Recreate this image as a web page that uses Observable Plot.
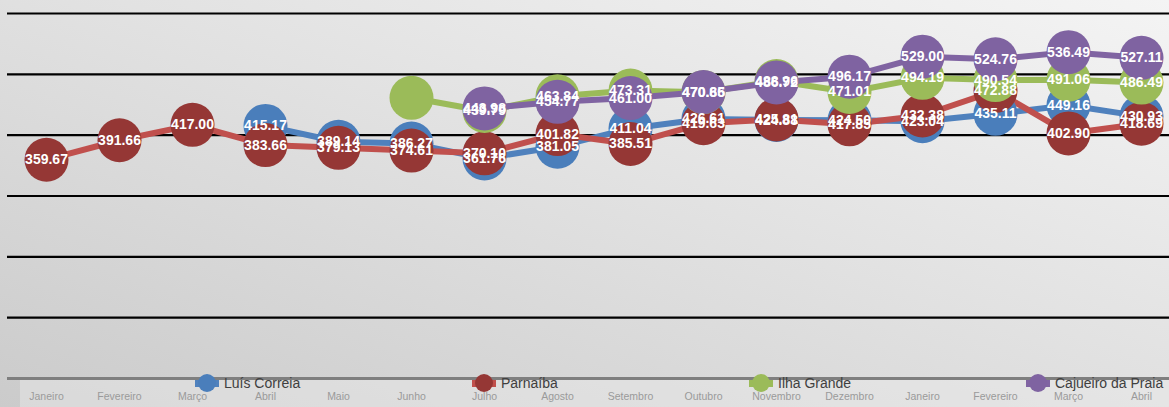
<!DOCTYPE html>
<html>
<head>
<meta charset="utf-8">
<script src="https://cdn.jsdelivr.net/npm/d3@7"></script>
<script src="https://cdn.jsdelivr.net/npm/@observablehq/plot@0.6"></script>
<style>
  html, body { margin: 0; padding: 0; overflow: hidden; }
  #wrap {
    position: relative; width: 1169px; height: 407px;
    background: linear-gradient(to bottom left, #f4f4f4 0%, #e2e2e2 45%, #cbcbcb 100%);
    font-family: "Liberation Sans", Arial, sans-serif;
  }
  #band { position: absolute; left: 20px; top: 379px; right: 0; bottom: 0; background: rgba(235,235,235,0.45); }
  #chart { position: absolute; left: 0; top: 0; }
  #legend {
    position: absolute; left: 195px; top: 373px;
    display: grid; grid-template-columns: repeat(4, 277px);
    font-size: 14px; color: #404040;
  }
  .item { display: flex; align-items: center; height: 20px; }
  .mk { position: relative; width: 24px; height: 20px; margin-right: 5px; }
  .mk .ln { position: absolute; left: 0; right: 0; top: 7px; height: 7px; }
  .mk .ci { position: absolute; left: 3px; top: 1px; width: 18px; height: 18px; border-radius: 50%; }
</style>
</head>
<body>
<div id="wrap"><div id="band"></div><div id="chart"></div><div id="legend"></div></div>
<script>
const months = ["Janeiro","Fevereiro","Março","Abril","Maio","Junho","Julho","Agosto","Setembro","Outubro","Novembro","Dezembro","Janeiro","Fevereiro","Março","Abril"];
const seriesNames = ["Luís Correia","Parnaíba","Ilha Grande","Cajueiro da Praia"];
const luisCorreia = [null,null,null,415.17,389.14,386.27,361.76,381.05,411.04,426.61,424.88,424.50,423.04,435.11,449.16,430.93];
const parnaiba    = [359.67,391.66,417.00,383.66,379.13,374.61,370.10,401.82,385.51,419.63,425.81,417.85,432.38,472.88,402.90,418.69];
const ilhaGrande  = [null,null,null,null,null,461.4,439.79,463.84,473.31,470.65,488.96,471.01,494.19,490.54,491.06,486.49];
const cajueiro    = [null,null,null,null,null,null,443.98,454.77,461.00,470.86,486.72,496.17,529.00,524.76,536.49,527.11];
const hiddenLabels = [["Ilha Grande", 5]];
const gridValues = [100,200,300,400,500,600];
const lineColors = ["#4f81bd","#c0504d","#9bbb59","#8064a2"];
const markerColors = ["#4a7ebb","#953735","#9bbb59","#7f63a1"];

const allSeries = [luisCorreia, parnaiba, ilhaGrande, cajueiro];
const rows = [];
allSeries.forEach((vals, s) => vals.forEach((v, i) => {
  if (v != null) rows.push({series: seriesNames[s], i, value: v,
    showLabel: !hiddenLabels.some(([n, k]) => n === seriesNames[s] && k === i)});
}));

const marks = [
  Plot.ruleY(gridValues, {stroke: "#000", strokeWidth: 2.2}),
  Plot.ruleY([0], {stroke: "#7f7f7f", strokeWidth: 3})
];
seriesNames.forEach((name, s) => {
  marks.push(Plot.line(rows.filter(d => d.series === name), {x: "i", y: "value", stroke: lineColors[s], strokeWidth: 6}));
});
seriesNames.forEach((name, s) => {
  marks.push(Plot.dot(rows.filter(d => d.series === name), {x: "i", y: "value", r: 22, fill: markerColors[s], stroke: "none"}));
});
marks.push(Plot.text(rows.filter(d => d.showLabel), {
  x: "i", y: "value", text: d => d.value.toFixed(2),
  fill: "#fff", fontSize: 14, fontWeight: "bold", fontFamily: "Liberation Sans, Arial, sans-serif"
}));

const chart = Plot.plot({
  width: 1169, height: 407,
  marginLeft: 7, marginRight: 0, marginTop: 13, marginBottom: 29,
  style: {background: "transparent", color: "#9a9a9a", fontSize: "10.5px", fontFamily: "Liberation Sans, Arial, sans-serif", overflow: "visible"},
  x: {type: "point", domain: d3.range(months.length), range: [43, 1143], padding: 0, tickFormat: i => months[i], tickSize: 0, tickPadding: 14, label: null},
  y: {domain: [0, 600], axis: null},
  marks
});
document.getElementById("chart").appendChild(chart);

const legend = document.getElementById("legend");
seriesNames.forEach((name, s) => {
  const item = document.createElement("div");
  item.className = "item";
  item.innerHTML = `<div class="mk"><div class="ln" style="background:${lineColors[s]}"></div><div class="ci" style="background:${markerColors[s]}"></div></div><span>${name}</span>`;
  legend.appendChild(item);
});
</script>
</body>
</html>
